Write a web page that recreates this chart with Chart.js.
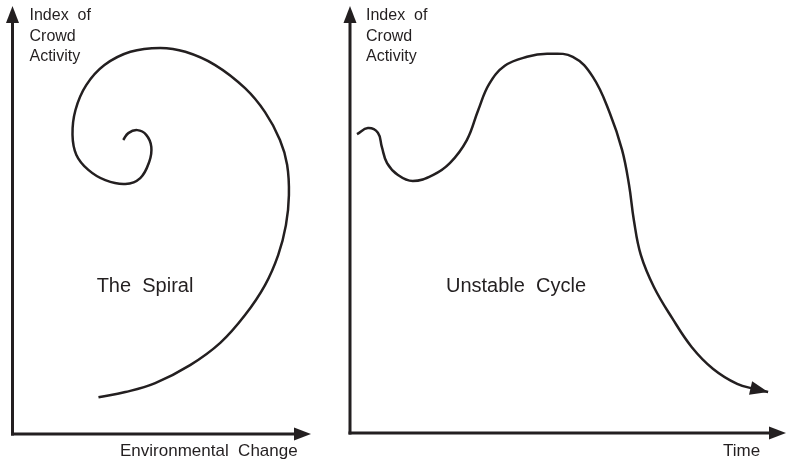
<!DOCTYPE html>
<html>
<head>
<meta charset="utf-8">
<script src="https://cdn.jsdelivr.net/npm/chart.js@4/dist/chart.umd.min.js"></script>
<style>
  html, body { margin: 0; padding: 0; background: #ffffff; overflow: hidden; }
  #wrap { position: relative; width: 786px; height: 464px; }
  canvas { position: absolute; top: 0; }
  #c1 { left: 0; }
  #c2 { left: 340px; }
</style>
</head>
<body>
<div id="wrap">
  <canvas id="c1" width="340" height="464"></canvas>
  <canvas id="c2" width="446" height="464"></canvas>
</div>
<script>
// ---- Data (abstract 0-100 units) ----
const spiralX = [37.1, 38.8, 41.8, 44.8, 46.5, 45.8, 42.8, 37.8, 31.1, 25.4, 21.4, 20.1, 21.1, 24.7, 30.8, 39.5, 49.5, 57.9, 67.9, 77.9, 84.6, 89.6, 92.0, 92.6, 91.6, 89.0, 84.6, 77.9, 69.6, 59.5, 47.8, 37.8, 28.8];
const spiralY = [68.7, 70.3, 71.0, 69.9, 67.1, 63.6, 59.8, 58.4, 59.3, 61.7, 65.2, 69.9, 75.7, 81.5, 86.2, 89.3, 90.2, 89.3, 86.2, 80.8, 75.2, 68.7, 62.9, 55.8, 48.8, 41.8, 34.8, 27.8, 21.3, 16.1, 11.9, 9.8, 8.6];

const cycleX = [1.6, 4.1, 6.4, 7.3, 8.5, 11.0, 14.4, 19.0, 22.9, 26.8, 29.4, 31.9, 35.5, 40.6, 45.2, 51.1, 55.7, 59.6, 62.4, 64.0, 65.1, 66.7, 69.7, 73.9, 78.4, 83.3, 88.8, 92.9, 95.9];
const cycleY = [70.0, 71.4, 70.3, 67.0, 63.2, 60.4, 59.0, 60.4, 63.2, 68.6, 75.6, 81.7, 86.0, 88.1, 88.8, 88.1, 83.4, 74.9, 66.3, 58.1, 49.9, 41.7, 34.2, 26.9, 20.1, 15.0, 11.5, 10.3, 9.6];

const yAxisLabelLines = ['Index  of', 'Crowd', 'Activity'];
const leftTitle = 'The  Spiral';
const rightTitle = 'Unstable  Cycle';
const leftXLabel = 'Environmental  Change';
const rightXLabel = 'Time';

const INK = '#231f20';

function toPoints(xs, ys) {
  return xs.map((x, i) => ({ x: x, y: ys[i] }));
}

function arrowHead(ctx, tipX, tipY, fromX, fromY, len, half) {
  const a = Math.atan2(tipY - fromY, tipX - fromX);
  const bx = tipX - len * Math.cos(a), by = tipY - len * Math.sin(a);
  const px = -Math.sin(a) * half, py = Math.cos(a) * half;
  ctx.beginPath();
  ctx.moveTo(tipX, tipY);
  ctx.lineTo(bx + px, by + py);
  ctx.lineTo(bx - px, by - py);
  ctx.closePath();
  ctx.fill();
}

// plugin: axes as arrows + texts
const decorPlugin = {
  id: 'decor',
  afterDraw(chart, args, opts) {
    const ctx = chart.ctx;
    const a = chart.chartArea;
    ctx.save();
    ctx.strokeStyle = INK;
    ctx.fillStyle = INK;
    ctx.lineWidth = 3;
    ctx.lineCap = 'butt';
    // y axis
    ctx.beginPath();
    ctx.moveTo(a.left, a.bottom + 1.5);
    ctx.lineTo(a.left, a.top + 12);
    ctx.stroke();
    arrowHead(ctx, a.left, a.top, a.left, a.top + 20, 17, 6.5);
    // x axis
    ctx.beginPath();
    ctx.moveTo(a.left - 1.5, a.bottom);
    ctx.lineTo(a.right - 12, a.bottom);
    ctx.stroke();
    arrowHead(ctx, a.right, a.bottom, a.right - 20, a.bottom, 17, 6.5);

    // curve end arrow
    if (opts.curveArrow) {
      const meta = chart.getDatasetMeta(0);
      const pts = meta.data;
      const last = pts[pts.length - 1], prev = pts[pts.length - 2];
      arrowHead(ctx, last.x, last.y, prev.x, prev.y, 18, 7);
    }

    // texts
    ctx.textBaseline = 'alphabetic';
    ctx.font = '16px "Liberation Sans", Arial, sans-serif';
    ctx.textAlign = 'left';
    yAxisLabelLines.forEach((t, i) => {
      ctx.fillText(t, a.left + opts.yLabelDx, 20 + i * 20.5);
    });
    ctx.font = '20px "Liberation Sans", Arial, sans-serif';
    ctx.textAlign = 'center';
    ctx.fillText(opts.title, opts.titleX, 292);
    ctx.font = '17px "Liberation Sans", Arial, sans-serif';
    ctx.textAlign = 'left';
    ctx.fillText(opts.xLabel, opts.xLabelX, 456);
    ctx.restore();
  }
};

function makeChart(id, xs, ys, padding, decor) {
  return new Chart(document.getElementById(id), {
    type: 'scatter',
    data: {
      datasets: [{
        data: toPoints(xs, ys),
        showLine: true,
        borderColor: INK,
        borderWidth: 2.5,
        pointRadius: 0,
        pointHoverRadius: 0,
        tension: 0.4,
        fill: false,
        clip: false
      }]
    },
    options: {
      responsive: false,
      animation: false,
      devicePixelRatio: 1,
      layout: { padding: padding },
      scales: {
        x: { type: 'linear', min: 0, max: 100, display: false },
        y: { type: 'linear', min: 0, max: 100, display: false }
      },
      plugins: {
        legend: { display: false },
        tooltip: { enabled: false },
        decor: decor
      }
    },
    plugins: [decorPlugin]
  });
}

makeChart('c1', spiralX, spiralY,
  { left: 12.5, right: 29, top: 6, bottom: 30 },
  { title: leftTitle, titleX: 145, xLabel: leftXLabel, xLabelX: 120, yLabelDx: 17, curveArrow: false });

makeChart('c2', cycleX, cycleY,
  { left: 10, right: 0, top: 6, bottom: 31 },
  { title: rightTitle, titleX: 176, xLabel: rightXLabel, xLabelX: 383, yLabelDx: 16, curveArrow: true });
</script>
</body>
</html>
